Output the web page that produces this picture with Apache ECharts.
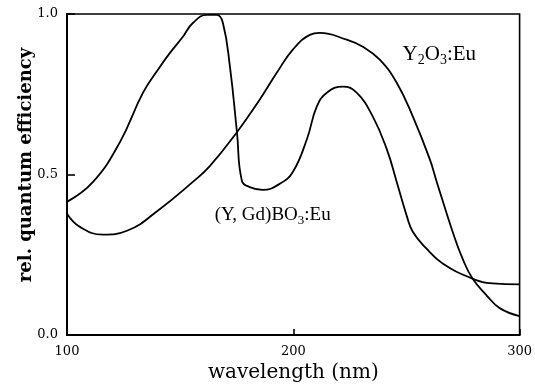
<!DOCTYPE html>
<html><head><meta charset="utf-8">
<script src="https://cdn.jsdelivr.net/npm/echarts@6/dist/echarts.min.js"></script>
<style>html,body{margin:0;padding:0;background:#fff}#c{width:535px;height:388px}</style>
</head><body><div id="c"></div>
<script>
const wlBO3 = [100, 111.5, 123.4, 133.6, 141.1, 145.5, 151.2, 155.6, 161.8, 166.2, 168.9, 172.0, 175.1, 177.3, 180.8, 186.5, 194.0, 199.8, 206.0, 210.4, 214.8, 221.9, 228.0, 235.1, 241.3, 245.7, 250.1, 252.8, 258.9, 266.0, 279.2, 288.1, 300];
const effBO3 = [0.415, 0.477, 0.601, 0.755, 0.836, 0.879, 0.929, 0.972, 0.997, 0.997, 0.972, 0.836, 0.632, 0.480, 0.461, 0.452, 0.471, 0.508, 0.610, 0.712, 0.755, 0.774, 0.755, 0.681, 0.579, 0.477, 0.372, 0.322, 0.269, 0.223, 0.176, 0.161, 0.158];
const wlY2O3 = [100, 105.7, 115.9, 126.5, 141.1, 155.6, 163.1, 175.1, 185.2, 192.7, 199.8, 207.3, 211.7, 223.6, 230.7, 238.2, 245.7, 252.8, 260.3, 263.4, 270.4, 274.8, 279.2, 285.4, 291.2, 300];
const effY2O3 = [0.378, 0.337, 0.313, 0.325, 0.393, 0.477, 0.526, 0.632, 0.734, 0.817, 0.889, 0.935, 0.941, 0.920, 0.898, 0.858, 0.786, 0.681, 0.548, 0.477, 0.322, 0.238, 0.176, 0.124, 0.084, 0.059];
const xTicks = [100, 200, 300];
const yTicks = [0.0, 0.5, 1.0];
const labelY2O3 = {x: 248.3, y: 0.873};
const labelBO3 = {x: 165.3, y: 0.375};

const SERIF = '"DejaVu Serif", serif';
const TSERIF = '"Liberation Serif", "Times New Roman", serif';
const chart = echarts.init(document.getElementById('c'), null, {renderer: 'canvas'});
const zip = (a, b) => a.map((v, i) => [v, b[i]]);
const lineStyle = {color: '#000', width: 1.8};
chart.setOption({
  animation: false,
  backgroundColor: '#fff',
  grid: {left: 67, right: 15, top: 14, bottom: 51, show: true, borderColor: '#000', borderWidth: 1.6},
  xAxis: {
    type: 'value', min: xTicks[0], max: xTicks[xTicks.length - 1], interval: 100,
    name: 'wavelength (nm)', nameLocation: 'middle', nameGap: 13,
    nameTextStyle: {fontFamily: SERIF, fontSize: 20, color: '#000', verticalAlign: 'top'},
    axisLine: {lineStyle: {color: '#000', width: 2}},
    axisTick: {inside: true, length: 6, lineStyle: {color: '#000', width: 1.6}},
    axisLabel: {fontFamily: SERIF, fontSize: 13, color: '#000', margin: 10},
    splitLine: {show: false}
  },
  yAxis: {
    type: 'value', min: yTicks[0], max: yTicks[yTicks.length - 1], interval: 0.5,
    axisLine: {lineStyle: {color: '#000', width: 2}},
    axisTick: {inside: true, length: 8, lineStyle: {color: '#000', width: 1.6}},
    axisLabel: {fontFamily: SERIF, fontSize: 13, color: '#000', margin: 9, formatter: v => v.toFixed(1)},
    splitLine: {show: false}
  },
  series: [
    {type: 'line', name: '(Y, Gd)BO3:Eu', data: zip(wlBO3, effBO3), smooth: 0.45, showSymbol: false, lineStyle},
    {type: 'line', name: 'Y2O3:Eu', data: zip(wlY2O3, effY2O3), smooth: 0.45, showSymbol: false, lineStyle}
  ]
});
const p1 = chart.convertToPixel({gridIndex: 0}, [labelY2O3.x, labelY2O3.y]);
const p2 = chart.convertToPixel({gridIndex: 0}, [labelBO3.x, labelBO3.y]);
chart.setOption({
  graphic: [
    {type: 'text', x: 26, y: 165, rotation: Math.PI / 2,
     style: {text: 'rel. quantum efficiency', font: 'bold 18px ' + SERIF, fill: '#000', align: 'center', verticalAlign: 'middle'}},
    {type: 'text', x: p1[0], y: p1[1],
     style: {text: '{m|Y}{s|2}{m|O}{s|3}{m|:Eu}', fill: '#000', align: 'left', verticalAlign: 'middle',
       rich: {m: {fontFamily: TSERIF, fontSize: 21, fill: '#000', lineHeight: 24}, s: {fontFamily: TSERIF, fontSize: 14, fill: '#000', padding: [12, 0, 0, 0], lineHeight: 24}}}},
    {type: 'text', x: p2[0], y: p2[1],
     style: {text: '{m|(Y, Gd)BO}{s|3}{m|:Eu}', fill: '#000', align: 'left', verticalAlign: 'middle',
       rich: {m: {fontFamily: TSERIF, fontSize: 19, fill: '#000', lineHeight: 22}, s: {fontFamily: TSERIF, fontSize: 13, fill: '#000', padding: [11, 0, 0, 0], lineHeight: 22}}}}
  ]
});
</script></body></html>
